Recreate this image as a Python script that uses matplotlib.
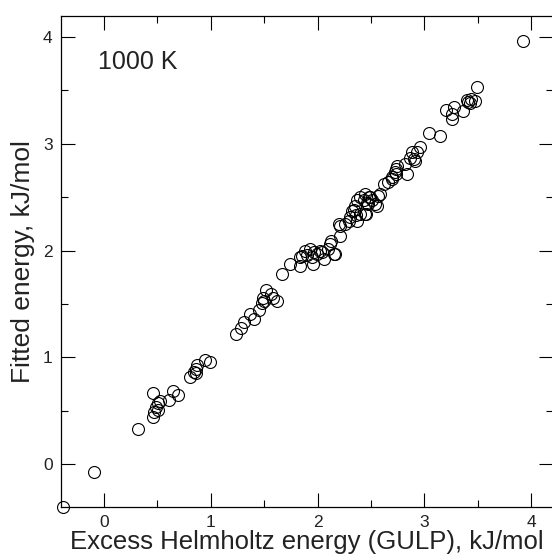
import numpy as np
import matplotlib
matplotlib.use("Agg")
import matplotlib.pyplot as plt
from matplotlib.ticker import MultipleLocator

plt.rcParams['font.family'] = ['Liberation Sans', 'DejaVu Sans']

# excess Helmholtz energy from GULP vs fitted energy, kJ/mol
gulp_energy = [
    -0.38, -0.09,
    0.32, 0.46, 0.46, 0.47, 0.49, 0.505, 0.53, 0.51, 0.61, 0.645, 0.695,
    0.81, 0.84, 0.86, 0.87, 0.86, 0.95, 0.99,
    1.24, 1.28, 1.315, 1.37, 1.41, 1.45, 1.48, 1.495, 1.49, 1.52, 1.56, 1.58, 1.62,
    1.67, 1.74, 1.84, 1.84, 1.855, 1.885, 1.93, 1.95, 1.96, 1.995, 2.04, 2.06,
    2.10, 2.12, 2.15, 2.125, 2.165, 2.21, 2.21, 2.20, 2.26, 2.29, 2.305, 2.32,
    2.35, 2.37, 2.445, 2.46, 2.49, 2.54, 2.57, 2.37, 2.40, 2.40, 2.445, 2.48,
    2.51, 2.455, 2.555, 2.585, 2.62, 2.66, 2.695, 2.73, 2.73, 2.74, 2.835,
    2.82, 2.865, 2.91, 2.93, 2.88, 2.90, 2.96, 1.90, 1.97, 2.02, 2.34, 2.36,
    2.43, 2.47, 2.70, 2.72,
    3.04, 3.15, 3.20, 3.255, 3.255, 3.28, 3.36, 3.41, 3.44, 3.47, 3.49, 3.43, 3.40,
    3.925,
]
fitted_energy = [
    -0.40, -0.07,
    0.33, 0.67, 0.44, 0.49, 0.535, 0.57, 0.59, 0.51, 0.60, 0.69, 0.645,
    0.82, 0.86, 0.89, 0.925, 0.85, 0.98, 0.96,
    1.22, 1.28, 1.33, 1.41, 1.36, 1.445, 1.51, 1.53, 1.56, 1.63, 1.595, 1.56, 1.53,
    1.78, 1.875, 1.86, 1.94, 1.95, 2.00, 2.015, 1.94, 1.875, 1.97, 1.985, 1.92,
    2.015, 2.06, 1.97, 2.09, 1.97, 2.14, 2.23, 2.25, 2.25, 2.28, 2.31, 2.37,
    2.42, 2.47, 2.34, 2.45, 2.50, 2.44, 2.51, 2.28, 2.345, 2.50, 2.53, 2.50,
    2.47, 2.34, 2.42, 2.53, 2.62, 2.64, 2.67, 2.72, 2.76, 2.79, 2.72,
    2.81, 2.87, 2.84, 2.92, 2.92, 2.86, 2.97, 1.96, 1.99, 2.00, 2.38, 2.33,
    2.47, 2.44, 2.69, 2.74,
    3.10, 3.07, 3.32, 3.28, 3.23, 3.34, 3.31, 3.39, 3.42, 3.40, 3.53, 3.38, 3.41,
    3.96,
]

fig = plt.figure(figsize=(5.52, 5.6), dpi=100)
ax = fig.add_axes([0.1105, 0.0946, 0.8908, 0.8777])

ax.plot(gulp_energy, fitted_energy, linestyle='none', marker='o', ms=8.6,
        mfc='none', mec='black', mew=0.8, clip_on=False)

ax.set_xlim(-0.4, 4.2)
ax.set_ylim(-0.4, 4.2)

for a in (ax.xaxis, ax.yaxis):
    a.set_major_locator(MultipleLocator(1))
    a.set_minor_locator(MultipleLocator(0.5))

ax.tick_params(which='both', direction='in', top=True, right=True, width=0.8,
               labelsize=12.5, labelcolor='#222222')
ax.tick_params(which='major', length=10, pad=6)
ax.tick_params(which='minor', length=5)
for s in ax.spines.values():
    s.set_linewidth(0.9)

ax.set_xlabel("Excess Helmholtz energy (GULP), kJ/mol", fontsize=18.5,
              color='#222222', labelpad=0)
ax.set_ylabel("Fitted energy, kJ/mol", fontsize=19, color='#222222', labelpad=6)

ax.text(-0.05, 3.70, "1000 K", fontsize=18, color='#222222')

fig.savefig("out.png", dpi=100)
